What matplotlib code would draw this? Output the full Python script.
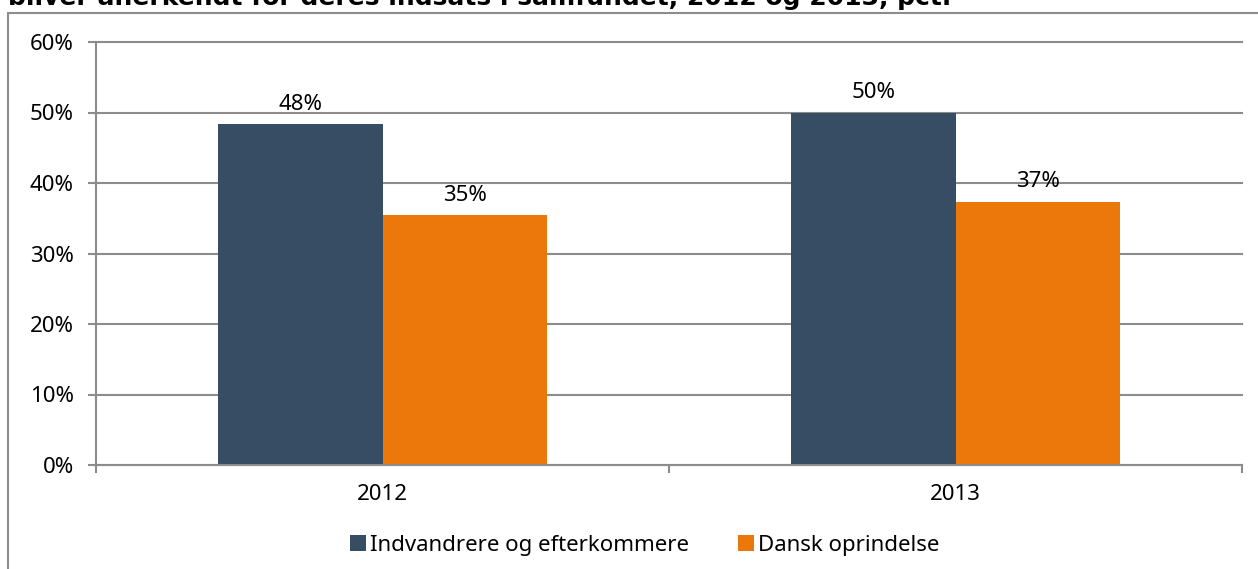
import numpy as np
import matplotlib.pyplot as plt
from matplotlib.patches import Rectangle

years = ['2012', '2013']
series = ['Indvandrere og efterkommere', 'Dansk oprindelse']
indvandrere = [48.3, 49.9]
dansk = [35.4, 37.3]
labels_ind = ['48%', '50%']
labels_dansk = ['35%', '37%']

title = 'bliver anerkendt for deres indsats i samfundet, 2012 og 2013, pct.'
blue = '#374D63'
orange = '#EC770A'
grey = '#8C8C8C'

plt.rcParams['font.family'] = ['Noto Sans', 'DejaVu Sans']
fs = 16

W, H = 1258, 569
fig = plt.figure(figsize=(W / 100, H / 100), dpi=100)

# outer chart frame, cut off at right and bottom
fig.patches.append(Rectangle((8 / W, -0.1), 1.2, (1 - 13 / H) + 0.1,
                             transform=fig.transFigure, fill=False,
                             edgecolor=grey, linewidth=1.5))

# title is mostly cut off by the top edge
fig.text(8 / W, 1 - 5 / H, title, fontsize=18, fontweight='bold',
         va='baseline', ha='left', family='DejaVu Sans')

ax = fig.add_axes([96 / W, 1 - 465 / H, (1242 - 96) / W, (465 - 42) / H])

x = np.arange(len(years))
w = 0.287
b1 = ax.bar(x - w / 2, indvandrere, w, color=blue, label=series[0], zorder=3)
b2 = ax.bar(x + w / 2, dansk, w, color=orange, label=series[1], zorder=3)

for bars, labs in ((b1, labels_ind), (b2, labels_dansk)):
    for r, lab in zip(bars, labs):
        ax.annotate(lab, (r.get_x() + r.get_width() / 2, r.get_height()),
                    xytext=(0, 7), textcoords='offset points',
                    ha='center', va='bottom', fontsize=fs)

ax.set_xlim(-0.5, 1.5)
ax.set_ylim(0, 60)
ax.set_yticks(np.arange(0, 61, 10))
ax.set_yticklabels([f'{v}%' for v in range(0, 61, 10)], fontsize=fs)
ax.set_xticks(x)
ax.set_xticklabels(years, fontsize=fs)
ax.set_xticks([-0.5, 0.5, 1.5], minor=True)
ax.tick_params(axis='x', which='major', length=0, pad=14)
ax.tick_params(axis='x', which='minor', length=6, width=1.5, color=grey)
ax.tick_params(axis='y', length=6, width=1.5, color=grey, pad=10)

ax.grid(axis='y', color=grey, linewidth=1.5, zorder=0)
for gl in ax.get_ygridlines():
    gl.set_clip_on(False)
for s in ['top', 'right']:
    ax.spines[s].set_visible(False)
for s in ['left', 'bottom']:
    ax.spines[s].set_color(grey)
    ax.spines[s].set_linewidth(1.5)
ax.spines['bottom'].set_zorder(4)

fig.legend(handles=[b1, b2], labels=series, loc='center',
           bbox_to_anchor=(645 / W, 1 - 545 / H), ncol=2, frameon=False,
           fontsize=fs, handlelength=0.7, handleheight=0.7,
           handletextpad=0.2, columnspacing=2.2)

fig.savefig('out.png', dpi=100)
